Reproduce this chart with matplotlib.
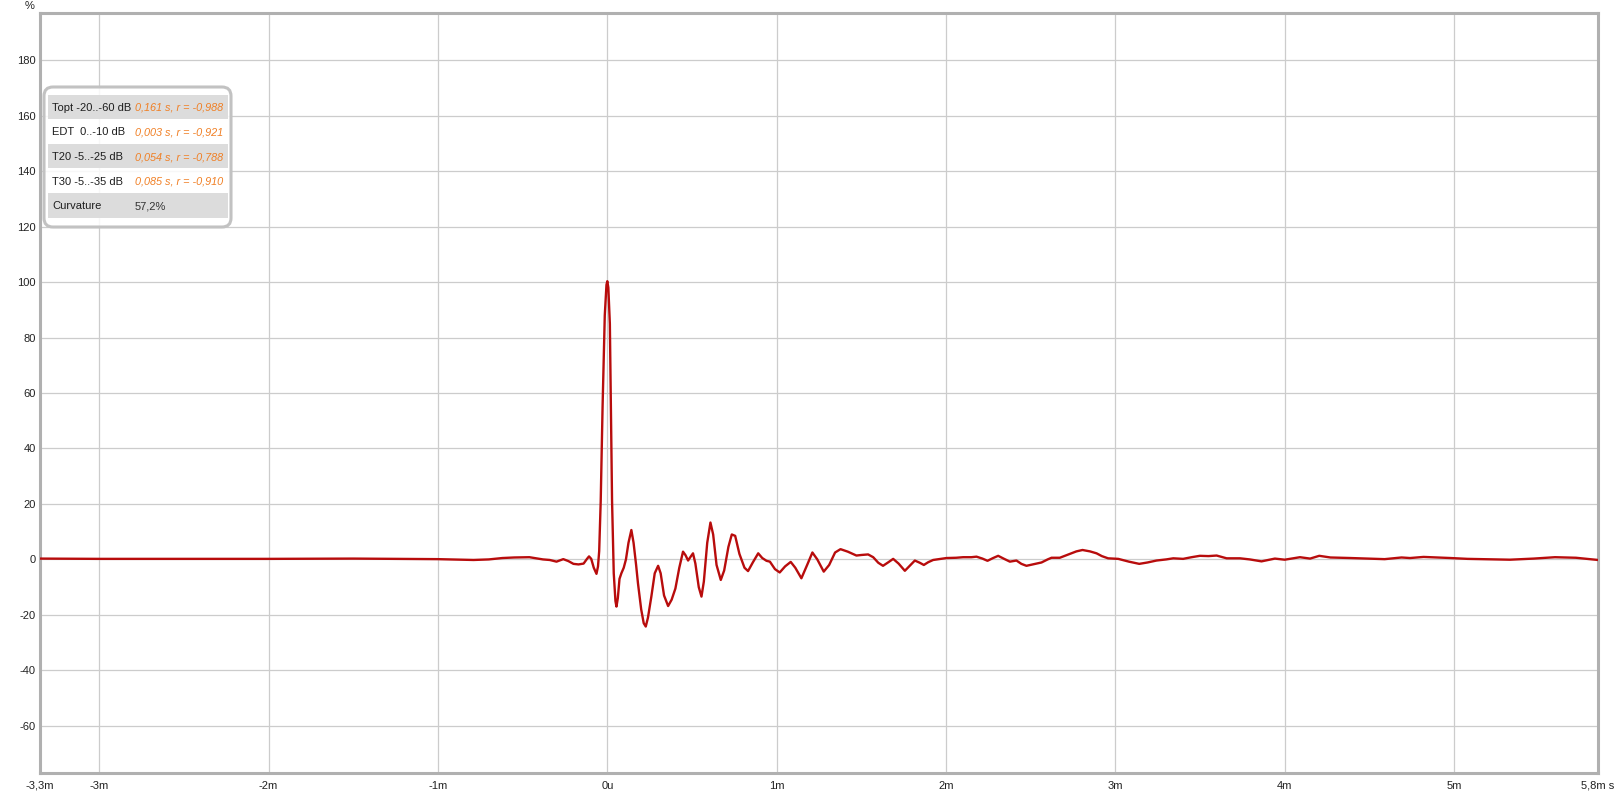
import matplotlib
matplotlib.use('Agg')
import matplotlib.pyplot as plt
from matplotlib.patches import FancyBboxPatch, Rectangle
from matplotlib.transforms import Affine2D

plt.rcParams['font.family'] = ['Liberation Sans', 'DejaVu Sans']

# impulse response, time in ms, level in %
time_ms = [-3.35, -3.0, -2.5, -2.0, -1.5, -1.2, -1.0, -0.85, -0.79, -0.7, -0.62, -0.55,
           -0.46, -0.42, -0.38, -0.34, -0.30, -0.26, -0.23, -0.20, -0.17, -0.14, -0.12,
           -0.108, -0.095, -0.08, -0.064, -0.055, -0.048, -0.039, -0.028, -0.015, -0.005,
           0.0, 0.006, 0.015, 0.028, 0.038, 0.048, 0.054, 0.062, 0.072, 0.083, 0.097,
           0.11, 0.125, 0.142, 0.155, 0.17, 0.181, 0.20, 0.215, 0.227, 0.24, 0.26, 0.28,
           0.30, 0.315, 0.335, 0.359, 0.38, 0.402, 0.425, 0.447, 0.462, 0.477, 0.49,
           0.506, 0.52, 0.54, 0.556, 0.57, 0.59, 0.609, 0.625, 0.645, 0.67, 0.69, 0.715,
           0.735, 0.755, 0.78, 0.81, 0.831, 0.86, 0.891, 0.915, 0.94, 0.96, 0.99, 1.018,
           1.05, 1.083, 1.11, 1.146, 1.18, 1.211, 1.24, 1.278, 1.31, 1.345, 1.377, 1.42,
           1.471, 1.50, 1.54, 1.57, 1.60, 1.628, 1.66, 1.688, 1.72, 1.757, 1.79, 1.816,
           1.845, 1.869, 1.895, 1.924, 2.003, 2.06, 2.101, 2.15, 2.18, 2.215, 2.245,
           2.278, 2.308, 2.34, 2.377, 2.416, 2.445, 2.475, 2.52, 2.564, 2.60, 2.623,
           2.672, 2.731, 2.77, 2.806, 2.85, 2.889, 2.92, 2.957, 3.017, 3.08, 3.141, 3.19,
           3.243, 3.30, 3.342, 3.40, 3.45, 3.499, 3.55, 3.598, 3.657, 3.736, 3.794,
           3.863, 3.942, 4.0, 4.09, 4.15, 4.204, 4.27, 4.39, 4.59, 4.69, 4.74, 4.82,
           4.98, 5.08, 5.33, 5.47, 5.596, 5.72, 5.85]
level_pct = [0.3, 0.2, 0.2, 0.2, 0.3, 0.2, 0.1, -0.1, -0.2, 0.0, 0.5, 0.7,
             0.8, 0.4, 0.0, -0.2, -0.8, 0.1, -0.6, -1.6, -1.8, -1.5, 0.2,
             1.1, 0.2, -3.0, -5.2, -2.5, 3.0, 21.0, 55.0, 88.0, 99.0,
             100.3, 98.0, 85.0, 21.0, -5.0, -15.0, -17.0, -14.0, -7.0, -5.0, -3.0,
             0.0, 6.0, 10.6, 6.0, -2.0, -8.6, -18.0, -23.0, -24.2, -21.0, -13.4, -5.0,
             -2.3, -5.0, -13.0, -16.8, -14.5, -10.5, -3.0, 2.8, 1.5, -0.4, 0.8,
             2.2, -1.5, -10.0, -13.4, -8.0, 6.0, 13.3, 9.0, -2.0, -7.4, -4.0, 4.5,
             9.0, 8.5, 2.0, -3.0, -4.2, -1.0, 2.2, 0.5, -0.5, -0.8, -3.5, -4.7,
             -2.5, -0.9, -3.0, -6.8, -2.0, 2.5, 0.0, -4.4, -2.0, 2.5, 3.7, 2.8,
             1.4, 1.6, 1.8, 0.8, -1.2, -2.3, -1.0, 0.2, -1.5, -4.1, -2.0, -0.4,
             -1.2, -2.0, -1.0, -0.2, 0.5, 0.6, 0.8, 0.8, 1.0, 0.3, -0.5,
             0.5, 1.3, 0.3, -0.8, -0.4, -1.6, -2.3, -1.7, -1.1, 0.0, 0.6,
             0.6, 2.0, 2.9, 3.4, 2.9, 2.2, 1.2, 0.4, 0.2, -0.8, -1.6, -1.1,
             -0.4, 0.0, 0.4, 0.2, 0.8, 1.3, 1.2, 1.4, 0.4, 0.4, 0.0,
             -0.7, 0.3, -0.1, 0.8, 0.3, 1.3, 0.7, 0.5, 0.1, 0.7, 0.5, 0.9,
             0.5, 0.2, -0.1, 0.3, 0.8, 0.6, -0.2]

x_ticks = [-3, -2, -1, 0, 1, 2, 3, 4, 5]
x_labels = ['-3m', '-2m', '-1m', '0u', '1m', '2m', '3m', '4m', '5m']
x_edge_labels = ['-3,3m', '5,8m s']
y_ticks = list(range(-60, 181, 20))

row_names = ['Topt -20..-60 dB', 'EDT  0..-10 dB', 'T20 -5..-25 dB', 'T30 -5..-35 dB', 'Curvature']
row_values = ['0,161 s, r = -0,988', '0,003 s, r = -0,921', '0,054 s, r = -0,788',
              '0,085 s, r = -0,910', '57,2%']

W, H = 1617, 795
fig = plt.figure(figsize=(W / 100, H / 100), dpi=100)
ax = fig.add_axes([40 / W, 1 - 773 / H, (1598 - 40) / W, (773 - 13) / H])

ax.plot(time_ms, level_pct, color='#b80c0c', lw=1.7, solid_joinstyle='round', zorder=3)
ax.set_xlim(-3.35, 5.85)
ax.set_ylim(-77, 197)

ax.set_xticks(x_ticks)
ax.set_xticklabels(x_labels)
ax.set_yticks(y_ticks)
ax.set_yticklabels([str(v) for v in y_ticks])
ax.tick_params(length=0, labelsize=8, colors='#222222')
ax.tick_params(axis='x', pad=6)
ax.tick_params(axis='y', pad=3)
ax.set_axisbelow(True)
ax.grid(True, color='#cccccc', lw=0.9)
for s in ax.spines.values():
    s.set_color('#b0b0b0')
    s.set_linewidth(2.2)

# edge labels of the time axis, same row as the tick labels
for xv, txt in zip(ax.get_xlim(), x_edge_labels):
    ax.annotate(txt, xy=(xv, 0), xycoords=('data', 'axes fraction'),
                xytext=(0, -5.5), textcoords='offset points', ha='center', va='top',
                fontsize=8, color='#222222', annotation_clip=False)

fig.text(30 / W, 1 - 6 / H, '%', ha='center', va='center', fontsize=8, color='#222222')

# legend box, drawn in pixel coords (y from top)
px = Affine2D().scale(1, -1).translate(0, H).scale(1 / 100) + fig.dpi_scale_trans
box = FancyBboxPatch((44, 87), 187, 140, boxstyle='round,pad=0,rounding_size=9',
                     transform=px, facecolor=(1, 1, 1, 0.85), edgecolor='#c2c2c2', lw=2.2,
                     zorder=5)
fig.patches.append(box)
for i, (name, val) in enumerate(zip(row_names, row_values)):
    top = 95 + i * 24.6
    if i % 2 == 0:
        fig.patches.append(Rectangle((48, top), 180, 24.2, transform=px,
                                     facecolor=(0.85, 0.85, 0.85, 0.9), lw=0, zorder=6))
    cy = top + 12.8
    fig.text(52, cy, name, transform=px, ha='left', va='center', fontsize=8,
             color='#1e1e1e', zorder=7)
    if name == 'Curvature':
        fig.text(135, cy, val, transform=px, ha='left', va='center', fontsize=8,
                 color='#333333', zorder=7)
    else:
        fig.text(135, cy, val, transform=px, ha='left', va='center', fontsize=7.8,
                 color='#f07f24', style='italic', zorder=7)

fig.savefig('out.png', dpi=100)
